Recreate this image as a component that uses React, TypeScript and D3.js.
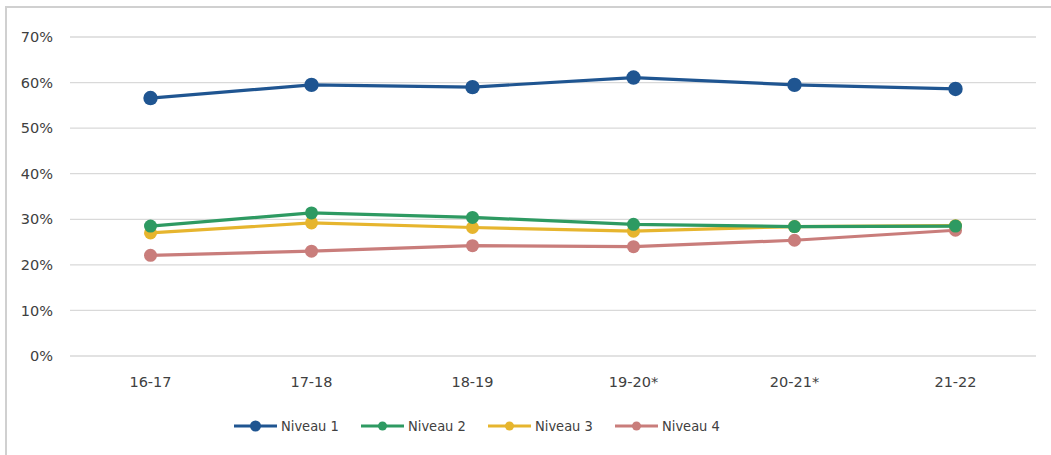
import React, { useEffect, useRef } from "react";
import * as d3 from "d3";

// catégories (années scolaires) et valeurs
const years = ["16-17", "17-18", "18-19", "19-20*", "20-21*", "21-22"];
const niveau1 = [56.6, 59.5, 59.0, 61.1, 59.5, 58.6];
const niveau2 = [28.5, 31.4, 30.4, 28.9, 28.4, 28.5];
const niveau3 = [27.0, 29.2, 28.2, 27.4, 28.4, 28.6];
const niveau4 = [22.1, 23.0, 24.2, 24.0, 25.4, 27.6];
const seriesNames = ["Niveau 1", "Niveau 2", "Niveau 3", "Niveau 4"];
const yTicks = [0, 10, 20, 30, 40, 50, 60, 70];

const colors = ["#1F5591", "#2E9A62", "#E6B52E", "#C97D7B"];
const FONT_NUM = "'DejaVu Sans', sans-serif";
const FONT_TXT = "'DejaVu Sans Condensed', 'DejaVu Sans', sans-serif";

const Chart: React.FC = () => {
  const ref = useRef<SVGGElement>(null);

  useEffect(() => {
    if (!ref.current) return;
    const svg = d3.select(ref.current);
    svg.selectAll("*").remove();

    const width = 1051;
    const height = 455;
    const margin = { top: 37, right: 15, bottom: 99, left: 70 };

    const x = d3.scaleBand()
      .domain(years)
      .range([margin.left, width - margin.right]);

    const y = d3.scaleLinear()
      .domain([0, 70])
      .range([height - margin.bottom, margin.top]);

    // lignes de grille horizontales + étiquettes
    const grid = svg.append("g");
    grid.selectAll("line")
      .data(yTicks)
      .join("line")
      .attr("x1", margin.left)
      .attr("x2", width - margin.right)
      .attr("y1", d => y(d))
      .attr("y2", d => y(d))
      .attr("stroke", "#D9D9D9")
      .attr("stroke-width", 1.3);

    grid.selectAll("text")
      .data(yTicks)
      .join("text")
      .attr("x", 53)
      .attr("y", d => y(d))
      .attr("dy", "0.35em")
      .attr("text-anchor", "end")
      .attr("font-family", FONT_NUM)
      .attr("font-size", 14.5)
      .attr("fill", "#404040")
      .text(d => `${d}%`);

    // étiquettes de l'axe x
    svg.append("g").selectAll("text")
      .data(years)
      .join("text")
      .attr("x", d => (x(d) ?? 0) + x.bandwidth() / 2)
      .attr("y", 387)
      .attr("text-anchor", "middle")
      .attr("font-family", FONT_NUM)
      .attr("font-size", 14.5)
      .attr("fill", "#404040")
      .text(d => d);

    const allSeries = [niveau1, niveau2, niveau3, niveau4];
    const cx = (i: number) => (x(years[i]) ?? 0) + x.bandwidth() / 2;

    const line = d3.line<number>()
      .x((_, i) => cx(i))
      .y(d => y(d));

    // on dessine le niveau 1 en dernier pour qu'il soit au-dessus
    const order = [3, 2, 1, 0];
    order.forEach(s => {
      const g = svg.append("g");
      g.append("path")
        .datum(allSeries[s])
        .attr("d", line)
        .attr("fill", "none")
        .attr("stroke", colors[s])
        .attr("stroke-width", 3.2)
        .attr("stroke-linejoin", "round");
      g.selectAll("circle")
        .data(allSeries[s])
        .join("circle")
        .attr("cx", (_, i) => cx(i))
        .attr("cy", d => y(d))
        .attr("r", s === 0 ? 7.2 : 6.5)
        .attr("fill", colors[s]);
    });

    // légende
    const legend = svg.append("g").attr("transform", "translate(234,426)");
    const item = legend.selectAll("g")
      .data(seriesNames)
      .join("g")
      .attr("transform", (_, i) => `translate(${i * 127},0)`);
    item.append("line")
      .attr("x1", 0).attr("x2", 43)
      .attr("y1", 0).attr("y2", 0)
      .attr("stroke", (_, i) => colors[i])
      .attr("stroke-width", 3);
    item.append("circle")
      .attr("cx", 21.5).attr("cy", 0)
      .attr("r", (_, i) => (i === 0 ? 5.5 : 4.5))
      .attr("fill", (_, i) => colors[i]);
    item.append("text")
      .attr("x", 47)
      .attr("y", 0)
      .attr("dy", "0.35em")
      .attr("font-family", FONT_TXT)
      .attr("font-size", 14.5)
      .attr("fill", "#404040")
      .text(d => d);
  }, []);

  return (
    <svg
      width={1051}
      height={455}
      style={{ position: "absolute", left: 0, top: 0, display: "block" }}
    >
      {/* cadre gris clair : seuls le haut et la gauche sont visibles */}
      <path d="M6,455 V7 H1051" fill="none" stroke="#D0D0D0" strokeWidth={2} />
      <g ref={ref} />
    </svg>
  );
};

export default function App() {
  return <Chart />;
}
